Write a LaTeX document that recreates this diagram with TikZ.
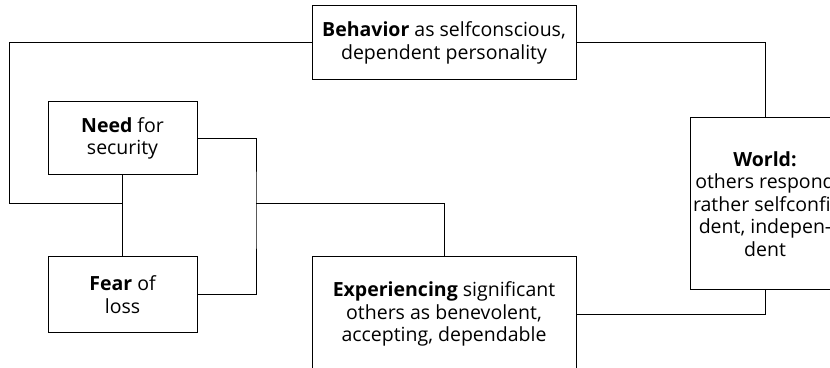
\documentclass[tikz,border=0pt]{standalone}
\usepackage{fontspec}
\setmainfont{Open Sans}
\begin{document}
\begin{tikzpicture}[x=1pt,y=1pt,
  every node/.style={font=\fontsize{19.5}{22.5}\selectfont},
  box/.style={draw, line width=1pt, align=center, inner sep=0pt},
  link/.style={line width=1pt}]
\useasboundingbox (0,0) rectangle (830,367);
\clip (0,0) rectangle (830,367);
% boxes
\node[box, minimum width=264, minimum height=74] (beh) at (444,324)
  {\textbf{Behavior} as selfconscious,\\dependent personality};
\node[box, minimum width=149, minimum height=73] (need) at (122.5,228.5)
  {\textbf{Need} for\\security};
\node[box, minimum width=149, minimum height=75] (fear) at (122.5,72.5)
  {\textbf{Fear} of\\loss};
\node[box, minimum width=150, minimum height=172] (world) at (765,163)
  {\textbf{World:}\\others respond\\rather selfconfi-\\dent, indepen-\\dent};
\node[box, minimum width=264, minimum height=114] (exp) at (444,53)
  {\textbf{Experiencing} significant\\others as benevolent,\\accepting, dependable};
% junction points
\coordinate (lft) at (9,163);
\coordinate (mid) at (256,163);
% connectors
\draw[link] (beh.west) -| (lft) -- (need.south |- lft);
\draw[link] (need.south) -- (fear.north);
\draw[link] (need.east) -| (mid) |- (fear.east);
\draw[link] (mid) -| (exp.north);
\draw[link] (beh.east) -| (world.north);
\draw[link] (world.south) |- (exp.east);
\end{tikzpicture}
\end{document}
